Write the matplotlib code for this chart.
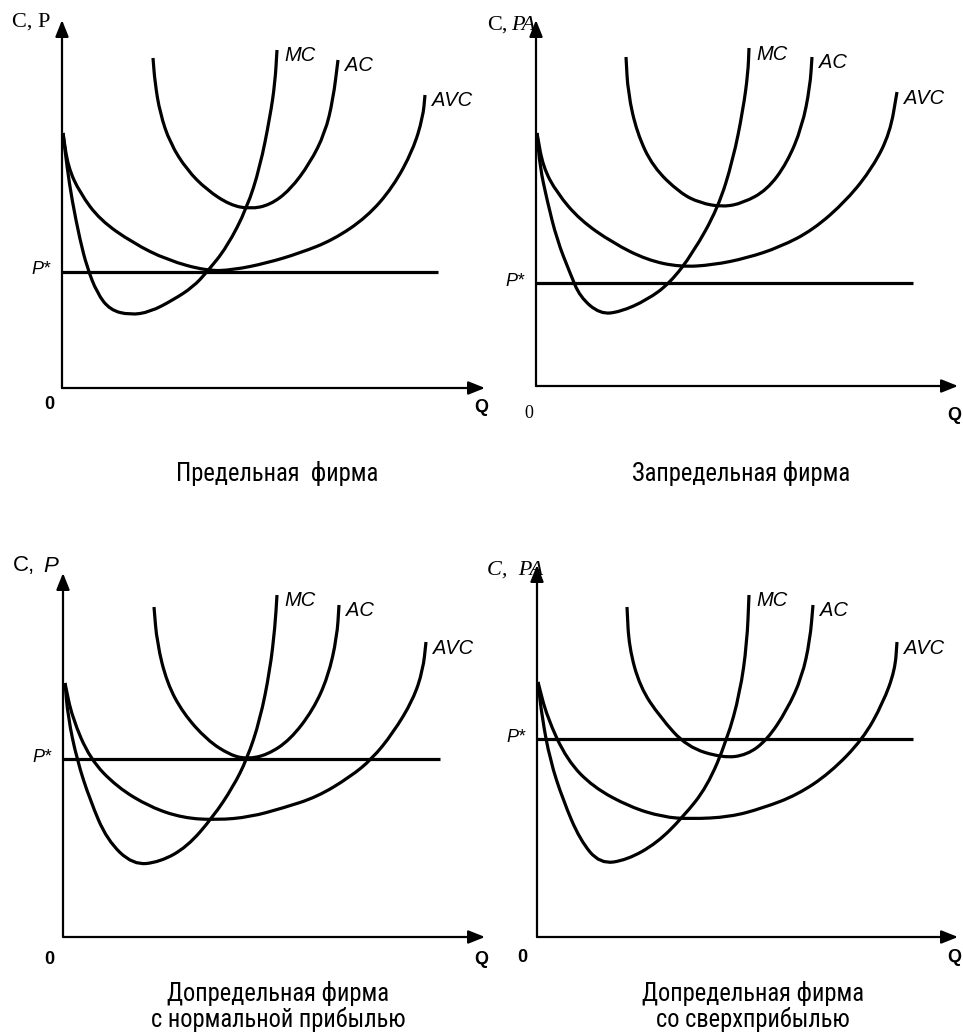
import matplotlib
matplotlib.use("Agg")
import matplotlib.pyplot as plt
from matplotlib.path import Path
from matplotlib.patches import PathPatch
from matplotlib import font_manager
from matplotlib.font_manager import FontProperties

# ---------------- data (Q, cost), pixel units from each origin ----------
# Panel 1: Предельная фирма
pred_mc = [(1, 255), (5, 221), (10, 188), (18, 148), (25, 121), (35, 95), (48, 78), (68, 73),
           (88, 76), (111, 88), (131, 101), (145, 116), (165, 141), (185, 180), (198, 221),
           (208, 271), (213, 305), (215, 338)]
pred_avc = [(1, 255), (6, 221), (18, 195), (38, 168), (71, 145), (105, 128), (145, 117),
            (171, 118), (205, 125), (238, 135), (271, 148), (305, 171), (331, 201), (351, 238),
            (361, 271), (363, 293)]
pred_ac = [(91, 330), (93, 305), (98, 275), (108, 245), (125, 218), (145, 198), (168, 183),
           (188, 179), (208, 183), (228, 198), (248, 225), (263, 255), (271, 288), (276, 328)]
pred_p = 116

# Panel 2: Запредельная фирма
zapr_mc = [(1, 253), (4, 219), (11, 186), (21, 146), (34, 113), (44, 89), (64, 72), (84, 74),
           (111, 86), (134, 103), (157, 133), (182, 178), (197, 226), (207, 276), (212, 313),
           (213, 338)]
zapr_avc = [(1, 253), (7, 219), (21, 193), (44, 166), (77, 143), (111, 126), (144, 119),
            (177, 121), (211, 128), (244, 139), (277, 156), (311, 186), (337, 219), (354, 253),
            (361, 294)]
zapr_ac = [(90, 329), (92, 293), (101, 253), (117, 219), (144, 193), (164, 183), (187, 179),
           (207, 183), (231, 196), (251, 223), (266, 259), (274, 299), (276, 329)]
zapr_p = 103

# Panel 3: Допредельная фирма с нормальной прибылью
norm_mc = [(2, 254), (5, 220), (14, 177), (27, 137), (44, 97), (70, 72), (97, 75), (124, 90),
           (150, 120), (170, 150), (184, 178), (197, 217), (207, 267), (212, 310), (214, 342)]
norm_avc = [(2, 254), (9, 220), (27, 178), (54, 150), (87, 130), (120, 119), (154, 117),
            (187, 120), (220, 129), (254, 140), (287, 160), (309, 178), (330, 204), (350, 237),
            (360, 267), (363, 295)]
norm_ac = [(91, 330), (94, 294), (104, 254), (120, 224), (144, 197), (167, 182), (184, 178),
           (204, 182), (227, 197), (250, 227), (265, 260), (274, 300), (276, 332)]
norm_p = 178

# Panel 4: Допредельная фирма со сверхприбылью
super_mc = [(1, 255), (5, 220), (13, 177), (26, 137), (43, 97), (63, 73), (90, 77), (120, 94),
            (146, 120), (170, 150), (190, 197), (203, 244), (210, 294), (212, 342)]
super_avc = [(1, 255), (10, 220), (30, 177), (56, 150), (93, 130), (126, 120), (153, 118),
             (193, 120), (226, 129), (260, 142), (293, 164), (326, 198), (346, 234), (358, 267),
             (360, 295)]
super_ac = [(90, 330), (92, 290), (103, 250), (123, 220), (150, 190), (186, 179), (210, 182),
            (230, 197), (250, 227), (265, 260), (273, 297), (276, 332)]
super_p = 198

curve_labels = ["MC", "AC", "AVC"]
titles = ["Предельная  фирма", "Запредельная фирма",
          "Допредельная фирма\nс нормальной прибылью",
          "Допредельная фирма\nсо сверхприбылью"]

# ---------------- layout ----------------
W, H = 963, 1035


def find_condensed():
    prefs = ["Liberation Sans Narrow", "Roboto Condensed", "Open Sans Condensed",
             "DejaVu Sans Condensed", "Noto Sans Condensed", "DejaVu Sans"]
    found = {}
    for f in font_manager.fontManager.ttflist:
        fn = f.fname.lower()
        if ("narrow" in fn or "condensed" in fn or "cond" in str(f.stretch)) \
                and "bold" not in fn and "italic" not in fn and "oblique" not in fn \
                and "light" not in fn and "thin" not in fn and "medium" not in fn \
                and "semi" not in fn and "black" not in fn:
            found.setdefault(f.name, f.fname)
    for p in prefs:
        if p in found:
            return FontProperties(fname=found[p])
        for name, fname in found.items():
            if p.split()[0] in name and ("condensed" in fname.lower() or "narrow" in fname.lower()):
                return FontProperties(fname=fname)
    if found:
        return FontProperties(fname=list(found.values())[0])
    return FontProperties(family="Liberation Sans")


SANS = "Liberation Sans"
SERIF = "Liberation Serif"

fig = plt.figure(figsize=(W / 100, H / 100), dpi=100)
fig.patch.set_facecolor("white")
renderer = fig.canvas.get_renderer()

# fit title font so that "Допредельная фирма" is ~222 px wide
title_fp = find_condensed()
probe_fp = title_fp.copy()
probe_fp.set_size(20)
probe = fig.text(0, 0, "Допредельная фирма", fontproperties=probe_fp)
pw = probe.get_window_extent(renderer).width
probe.remove()
title_size = 20 * 222.0 / pw
title_fp.set_size(title_size)

panels = [
    dict(o=(62, 388), xm=423, ym=368, pend=376, mc=pred_mc, avc=pred_avc, ac=pred_ac, p=pred_p,
         title=titles[0], tpos=(277, 474), zero=(-13, -17), zserif=False),
    dict(o=(536, 386), xm=422, ym=366, pend=377, mc=zapr_mc, avc=zapr_avc, ac=zapr_ac, p=zapr_p,
         title=titles[1], tpos=(741, 474), zero=(-7, -27), zserif=True),
    dict(o=(63, 937), xm=422, ym=364, pend=377, mc=norm_mc, avc=norm_avc, ac=norm_ac, p=norm_p,
         title=titles[2], tpos=(278, 1007), zero=(-14, -22), zserif=False),
    dict(o=(537, 937), xm=421, ym=372, pend=376, mc=super_mc, avc=super_avc, ac=super_ac,
         p=super_p, title=titles[3], tpos=(753, 1007), zero=(-15, -21), zserif=False),
]


def smooth_path(pts):
    verts = [pts[0]]
    codes = [Path.MOVETO]
    mids = [((pts[i][0] + pts[i + 1][0]) / 2, (pts[i][1] + pts[i + 1][1]) / 2)
            for i in range(len(pts) - 1)]
    verts.append(mids[0])
    codes.append(Path.LINETO)
    for i in range(1, len(pts) - 1):
        verts += [pts[i], mids[i]]
        codes += [Path.CURVE3, Path.CURVE3]
    verts.append(pts[-1])
    codes.append(Path.LINETO)
    return Path(verts, codes)


for k, pn in enumerate(panels):
    ox, oy = pn["o"]
    ax = fig.add_axes([ox / W, 1 - oy / H, pn["xm"] / W, pn["ym"] / H])
    ax.set_xlim(0, pn["xm"])
    ax.set_ylim(0, pn["ym"])
    ax.axis("off")
    arrow = dict(arrowstyle="-|>,head_length=1.0,head_width=0.4", lw=1.6, color="black",
                 shrinkA=0, shrinkB=0, mutation_scale=10)
    ax.annotate("", xy=(pn["xm"], 0), xytext=(0, 0), arrowprops=arrow, annotation_clip=False)
    ax.annotate("", xy=(0, pn["ym"]), xytext=(0, 0), arrowprops=arrow, annotation_clip=False)

    for key in ("mc", "ac", "avc"):
        ax.add_patch(PathPatch(smooth_path(pn[key]), fill=False, lw=2.3, edgecolor="black",
                               capstyle="butt", joinstyle="round", clip_on=False))
    ax.plot([0, pn["pend"]], [pn["p"], pn["p"]], color="black", lw=2.3,
            solid_capstyle="butt", clip_on=False)

    # curve labels
    for key, lab in zip(("mc", "ac", "avc"), curve_labels):
        qx, cy = pn[key][-1]
        ax.text(qx + 7, cy - 6, lab, fontsize=14.5, family=SANS, style="italic",
                ha="left", va="center")
    # P*
    ax.text(-12, pn["p"] + 2, "P*", fontsize=13, family=SANS, style="italic",
            ha="right", va="center")
    # 0 and Q
    zx, zy = pn["zero"]
    ax.text(zx, zy, "0", fontsize=13, family=SERIF if pn["zserif"] else SANS,
            ha="center", va="center", fontweight="normal" if pn["zserif"] else "bold")
    ax.text(pn["xm"] - 4, zy - 3 if k < 2 else zy, "Q", fontsize=13, family=SANS,
            fontweight="bold", ha="center", va="center")

    tx, ty = pn["tpos"]
    fig.text(tx / W, 1 - ty / H, pn["title"], fontproperties=title_fp,
             ha="center", va="center", linespacing=1.05)

# axis captions
fig.text(12 / W, 1 - 22 / H, "C, P", fontsize=16, family=SERIF, ha="left", va="center")
fig.text(487 / W, 1 - 25 / H, "C,", fontsize=16, family=SERIF, ha="left", va="center")
fig.text(511 / W, 1 - 25 / H, "PA", fontsize=16, family=SERIF, style="italic",
         ha="left", va="center")
fig.text(13 / W, 1 - 566 / H, "C,", fontsize=16, family=SANS, ha="left", va="center")
fig.text(43 / W, 1 - 566 / H, "P", fontsize=16, family=SANS, style="italic",
         ha="left", va="center")
fig.text(487 / W, 1 - 570 / H, "C,  PA", fontsize=16, family=SERIF, style="italic",
         ha="left", va="center")

fig.savefig("out.png", dpi=100, facecolor="white")
